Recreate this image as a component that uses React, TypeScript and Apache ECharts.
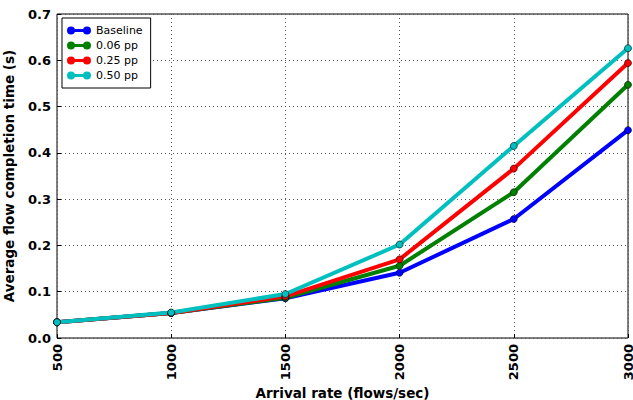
import React, { useEffect, useRef } from "react";
import * as echarts from "echarts";

const arrivalRates = [500, 1000, 1500, 2000, 2500, 3000];
const baseline = [0.034, 0.054, 0.086, 0.141, 0.257, 0.449];
const pp006 = [0.034, 0.054, 0.087, 0.156, 0.315, 0.547];
const pp025 = [0.034, 0.054, 0.090, 0.170, 0.366, 0.594];
const pp050 = [0.034, 0.055, 0.095, 0.202, 0.415, 0.626];
const seriesNames = ["Baseline", "0.06 pp", "0.25 pp", "0.50 pp"];
const seriesColors = ["#0000ff", "#008000", "#ff0000", "#00bfbf"];

const legendIcon =
  "path://M0,4A4,4 0 1,1 8,4A4,4 0 1,1 0,4Z M16,4A4,4 0 1,1 24,4A4,4 0 1,1 16,4Z M7.5,2.5L16.5,2.5L16.5,5.5L7.5,5.5Z";

export default function App() {
  const ref = useRef<HTMLDivElement>(null);
  useEffect(() => {
    if (!ref.current) return;
    const chart = echarts.init(ref.current, null, { renderer: "svg" });
    const allData = [baseline, pp006, pp025, pp050];
    const font = "'DejaVu Sans', sans-serif";
    chart.setOption({
      animation: false,
      textStyle: { fontFamily: font },
      grid: {
        left: 57,
        right: 5,
        top: 14,
        bottom: 62,
        outerBoundsMode: "none",
        containLabel: false,
        show: true,
        borderColor: "#000",
        borderWidth: 1,
        backgroundColor: "transparent",
      },
      legend: {
        orient: "vertical",
        left: 62,
        top: 18,
        padding: [7, 8, 7, 5],
        itemWidth: 24,
        itemHeight: 8,
        itemGap: 4,
        borderColor: "#000",
        borderWidth: 1,
        backgroundColor: "#fff",
        borderRadius: 0,
        itemStyle: { borderWidth: 0, opacity: 1 },
        textStyle: { fontSize: 11, color: "#000", fontFamily: font },
        data: seriesNames.map((n, i) => ({
          name: n,
          icon: legendIcon,
          itemStyle: { color: seriesColors[i], borderWidth: 0 },
        })),
      },
      xAxis: {
        type: "value",
        min: 500,
        max: 3000,
        interval: 500,
        name: "Arrival rate (flows/sec)",
        nameLocation: "middle",
        nameMoveOverlap: false,
        nameGap: 48,
        nameTextStyle: { fontSize: 13.5, fontWeight: "bold", color: "#000", fontFamily: font },
        axisLine: { show: false },
        axisTick: { show: true, inside: true, length: 4, lineStyle: { color: "#000" } },
        axisLabel: {
          rotate: 90,
          fontSize: 13,
          lineHeight: 10,
          fontWeight: "bold",
          color: "#000",
          margin: 6,
          fontFamily: font,
          formatter: (v: number) => String(v),
        },
        splitLine: { show: true, lineStyle: { color: "#555", type: [1, 3], width: 1 } },
      },
      yAxis: {
        type: "value",
        min: 0,
        max: 0.7,
        interval: 0.1,
        name: "Average flow completion time (s)",
        nameLocation: "middle",
        nameMoveOverlap: false,
        nameGap: 41,
        nameTextStyle: { fontSize: 13.5, fontWeight: "bold", color: "#000", fontFamily: font },
        axisLine: { show: false },
        axisTick: { show: true, inside: true, length: 4, lineStyle: { color: "#000" } },
        axisLabel: {
          fontSize: 13,
          fontWeight: "bold",
          color: "#000",
          margin: 6,
          fontFamily: font,
          formatter: (v: number) => v.toFixed(1),
        },
        splitLine: { show: true, lineStyle: { color: "#555", type: [1, 3], width: 1 } },
      },
      series: seriesNames.map((name, i) => ({
        name,
        type: "line",
        data: arrivalRates.map((x, j) => [x, allData[i][j]]),
        symbol: "circle",
        symbolSize: 7,
        showSymbol: true,
        lineStyle: { color: seriesColors[i], width: 4 },
        itemStyle: { color: seriesColors[i], borderColor: "#000", borderWidth: 0.6 },
        emphasis: { disabled: true },
      })),
    });
    return () => chart.dispose();
  }, []);
  return <div ref={ref} style={{ width: 633, height: 400, position: "absolute", left: 0, top: 0 }} />;
}
